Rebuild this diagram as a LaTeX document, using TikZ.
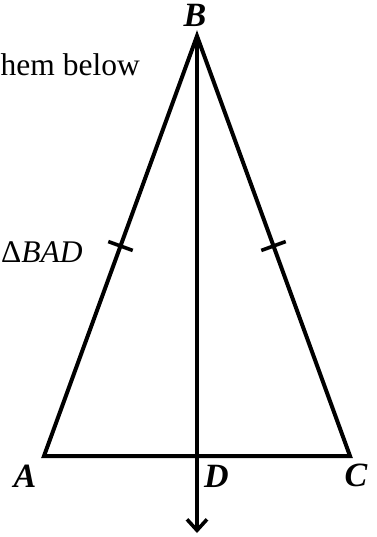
\documentclass[tikz,border=0pt]{standalone}
\usepackage{fontspec}
\setmainfont{Liberation Serif}
\usetikzlibrary{arrows.meta, positioning, calc}
\tikzset{
  edge/.style = {line width=4pt, line join=miter},
  tickmark/.style = {line width=3.6pt},
  vertex/.style = {font=\fontsize{34}{34}\selectfont\bfseries\itshape, inner sep=0pt},
  note/.style = {font=\fontsize{31.5}{32}\selectfont, inner sep=0pt},
  arrowline/.style = {line width=3.6pt, -{Straight Barb[length=11pt, width=20pt, line width=3.6pt]}}
}

\begin{document}
\begin{tikzpicture}[x=1pt, y=-1pt]
\useasboundingbox (0,0) rectangle (376,537);

% Points
\coordinate (A) at (44,456);
\coordinate (B) at (197,36);
\coordinate (C) at (350,456);
\coordinate (D) at (197,456);
\coordinate (E) at (197,533);

% Triangle and the line from B
\draw[edge] (A) -- (B) -- (C) -- cycle;
\draw[arrowline] (B) -- (E);

% Equal sides
\coordinate (mAB) at ($(A)!0.5!(B)$);
\coordinate (mCB) at ($(C)!0.5!(B)$);
\draw[tickmark] ($(mAB)!13pt!90:(B)$) -- ($(mAB)!13pt!-90:(B)$);
\draw[tickmark] ($(mCB)!13pt!90:(B)$) -- ($(mCB)!13pt!-90:(B)$);

% Labels
\node[vertex, anchor=base] (labelB) at (195,27) {B};
\node[vertex, anchor=base] (labelA) at (25,487) {A};
\node[vertex, anchor=base west] (labelD) at (204,487) {D};
\node[vertex, anchor=base] (labelC) at (356,486) {C};

% Text at the left
\node[note, anchor=base west] (textbelow) at (0.5,76) {hem below};
\node[note, anchor=base west] (textBAD) at (1,262) {Δ\textit{BAD}};

\end{tikzpicture}
\end{document}
